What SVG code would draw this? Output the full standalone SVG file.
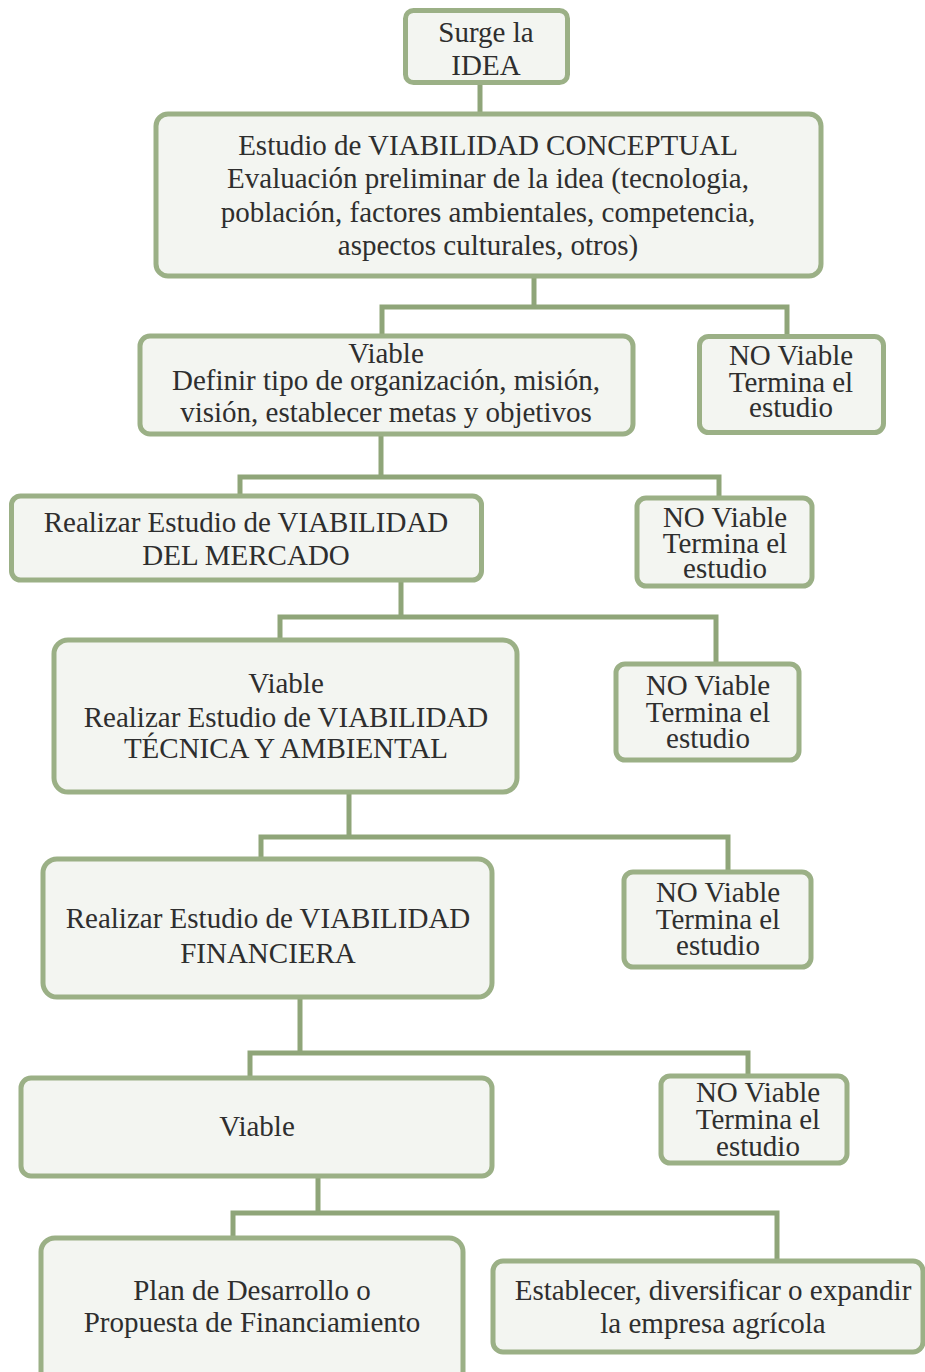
<svg xmlns="http://www.w3.org/2000/svg" width="925" height="1372" viewBox="0 0 925 1372">
<style>
.box{fill:#F3F5F1;stroke:#9BB086;stroke-width:5}
.t{font-family:"Liberation Serif","Times New Roman",serif;font-size:29px;fill:#2E2E2E;text-anchor:middle}
.c{fill:none;stroke:#8FA579;stroke-width:5;stroke-linejoin:miter}
</style>
<rect width="925" height="1372" fill="#FFFFFF"/>
<g id="connectors">
<path class="c" d="M480,83 V113"/>
<path class="c" d="M534,277 V307 M382,335 V307 H787 V335"/>
<path class="c" d="M381,435 V477 M240,495 V477 H719 V497"/>
<path class="c" d="M401,581 V617 M280,639 V617 H716 V663"/>
<path class="c" d="M349,793 V837 M261,858 V837 H728 V871"/>
<path class="c" d="M300,998 V1053 M250,1077 V1053 H748 V1075"/>
<path class="c" d="M318,1177 V1213 M233,1237 V1213 H777 V1260"/>
</g>
<g id="n1"><rect class="box" x="405.5" y="10.5" width="162" height="72" rx="8"/>
<text class="t" x="486" y="42">Surge la</text><text class="t" x="486" y="75">IDEA</text></g>
<g id="n2"><rect class="box" x="156" y="114" width="665" height="162" rx="12"/>
<text class="t" x="488" y="155">Estudio de VIABILIDAD CONCEPTUAL</text>
<text class="t" x="488" y="188">Evaluación preliminar de la idea (tecnologia,</text>
<text class="t" x="488" y="222">población, factores ambientales, competencia,</text>
<text class="t" x="488" y="255">aspectos culturales, otros)</text></g>
<g id="n3"><rect class="box" x="140" y="336" width="493" height="98" rx="10"/>
<text class="t" x="386" y="363">Viable</text>
<text class="t" x="386" y="390">Definir tipo de organización, misión,</text>
<text class="t" x="386" y="422">visión, establecer metas y objetivos</text></g>
<g id="no1"><rect class="box" x="699.5" y="336.5" width="184" height="96" rx="9"/>
<text class="t" x="791" y="365">NO Viable</text><text class="t" x="791" y="392">Termina el</text><text class="t" x="791" y="417">estudio</text></g>
<g id="n4"><rect class="box" x="11.5" y="496" width="470" height="84" rx="9"/>
<text class="t" x="246" y="532">Realizar Estudio de VIABILIDAD</text>
<text class="t" x="246" y="565">DEL MERCADO</text></g>
<g id="no2"><rect class="box" x="637" y="498" width="175" height="88" rx="9"/>
<text class="t" x="725" y="527">NO Viable</text><text class="t" x="725" y="553">Termina el</text><text class="t" x="725" y="578">estudio</text></g>
<g id="n5"><rect class="box" x="54" y="640" width="463" height="152" rx="14"/>
<text class="t" x="286" y="693">Viable</text>
<text class="t" x="286" y="727">Realizar Estudio de VIABILIDAD</text>
<text class="t" x="286" y="758">TÉCNICA Y AMBIENTAL</text></g>
<g id="no3"><rect class="box" x="616" y="664" width="183" height="96" rx="9"/>
<text class="t" x="708" y="695">NO Viable</text><text class="t" x="708" y="722">Termina el</text><text class="t" x="708" y="748">estudio</text></g>
<g id="n6"><rect class="box" x="43" y="859" width="449" height="138" rx="14"/>
<text class="t" x="268" y="928">Realizar Estudio de VIABILIDAD</text>
<text class="t" x="268" y="963">FINANCIERA</text></g>
<g id="no4"><rect class="box" x="624" y="872" width="187" height="95" rx="9"/>
<text class="t" x="718" y="902">NO Viable</text><text class="t" x="718" y="929">Termina el</text><text class="t" x="718" y="955">estudio</text></g>
<g id="n7"><rect class="box" x="21" y="1078" width="471" height="98" rx="10"/>
<text class="t" x="257" y="1136">Viable</text></g>
<g id="no5"><rect class="box" x="661" y="1076" width="186" height="87" rx="9"/>
<text class="t" x="758" y="1102">NO Viable</text><text class="t" x="758" y="1129">Termina el</text><text class="t" x="758" y="1156">estudio</text></g>
<g id="n8"><rect class="box" x="41" y="1238" width="422" height="150" rx="14"/>
<text class="t" x="252" y="1300">Plan de Desarrollo o</text>
<text class="t" x="252" y="1332">Propuesta de Financiamiento</text></g>
<g id="n9"><rect class="box" x="493" y="1261" width="430" height="91" rx="10"/>
<text class="t" x="713" y="1300">Establecer, diversificar o expandir</text>
<text class="t" x="713" y="1333">la empresa agrícola</text></g>
</svg>
